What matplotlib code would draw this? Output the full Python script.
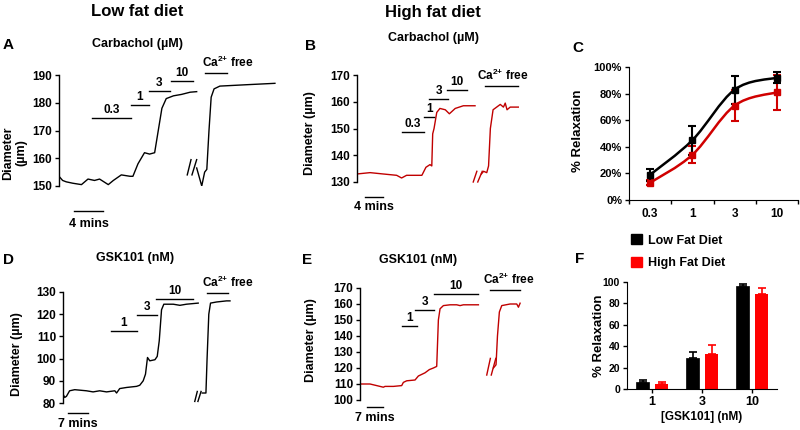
import numpy as np
import matplotlib
matplotlib.use("Agg")
import matplotlib.pyplot as plt
from matplotlib.path import Path
from matplotlib.patches import PathPatch, Patch

plt.rcParams["font.family"] = ["Liberation Sans", "DejaVu Sans"]
plt.rcParams["font.weight"] = "bold"
plt.rcParams["axes.labelweight"] = "bold"
plt.rcParams["mathtext.fontset"] = "custom"
plt.rcParams["mathtext.rm"] = "Liberation Sans:bold"
plt.rcParams["mathtext.bf"] = "Liberation Sans:bold"
plt.rcParams["mathtext.default"] = "rm"

# ---- traces (time in min, diameter in um) ----
# A: low fat diet, carbachol
a_t1 = [0, 0.5, 1.0, 1.9, 3.1, 4.0, 4.9, 5.6, 6.5, 6.8, 7.5, 8.6, 9.8, 10.2, 10.9, 11.8, 12.5, 13.2, 13.7, 14.2, 14.8, 15.8, 16.9, 18.1, 19.0]
a_d1 = [153.5, 152, 151.5, 151, 150.5, 152.5, 152, 152.5, 151, 150.5, 152, 154, 153.5, 153.5, 158, 162, 161.5, 162, 170, 178, 181.5, 182.5, 183, 183.8, 184]
a_t2 = [19.0, 19.7, 20.1, 20.4, 20.7, 21.0, 21.4, 22.2, 25.9, 29.8]
a_d2 = [156.5, 150, 155, 156, 170, 182, 185, 186, 186.5, 187]
# B: high fat diet, carbachol
b_t1 = [0, 2.9, 5.8, 8.8, 9.9, 11.0, 14.4, 15.3, 16.2, 16.6, 16.8, 17.1, 17.7, 18.4, 19.6, 20.5, 21.8, 23.6, 26.2]
b_d1 = [133, 133.5, 133, 132.5, 131.5, 132.5, 132.5, 135.5, 136.5, 136, 148, 150, 156, 157.5, 157, 155.5, 157.5, 158.5, 158.5]
b_t2 = [27.6, 28.1, 28.8, 29.2, 29.6, 30.2, 31.8, 32.5, 32.9, 33.3, 34.0, 35.8]
b_d2 = [133, 134, 133.5, 136, 150, 157, 159, 158, 159.5, 157, 158, 158]
# D: low fat diet, GSK101
d_t1 = [0, 0.6, 1.2, 2.3, 4.1, 8.2, 10.5, 12.8, 15.2, 18.1, 18.7, 19.8, 22.2, 25.7, 26.8, 28.0, 28.8, 29.5, 30.3, 32.1, 32.9, 33.6, 34.4, 35.2, 38.5, 40.8, 43.1, 47.2]
d_d1 = [84, 82.5, 83, 85.5, 86, 85.5, 85, 85.5, 85, 85.5, 84.5, 86.5, 87, 87.5, 88, 90, 93, 100.5, 99, 99.5, 101, 108, 122, 124.5, 124.5, 124, 124.5, 125]
d_t2 = [48.6, 49.9, 50.3, 50.9, 51.5, 53.6, 57.1, 58.3]
d_d2 = [84.5, 84.5, 100, 120, 125, 125.5, 126, 126]
# E: high fat diet, GSK101
e_t1 = [0, 4.2, 7.0, 9.8, 10.5, 14.0, 17.5, 18.2, 19.6, 23.1, 24.5, 27.3, 29.1, 30.8, 32.2, 32.9, 33.6, 35.0, 37.8, 40.6, 42.0, 43.4, 49.7]
e_d1 = [110, 110, 109, 108, 108.5, 108.5, 109, 111, 112, 112.5, 115, 117, 119, 120, 121, 150, 157, 159, 159.5, 159.5, 159, 159.5, 159.5]
e_t2 = [56.0, 57.1, 57.7, 58.5, 59.5, 63.0, 65.8, 66.5, 67.2]
e_d2 = [120, 122, 140, 155, 159, 160, 160, 158, 160.5]

# drug application bars: (label, start, end, level)
a_doses = [("0.3", 4.55, 9.93, 174.5), ("1", 9.93, 12.4, 179.2), ("3", 12.4, 15.3, 184.2), ("10", 15.45, 18.5, 187.8)]
b_doses = [("0.3", 9.9, 14.9, 148.8), ("1", 14.9, 17.1, 154.2), ("3", 16.0, 20.2, 160.9), ("10", 20.0, 24.4, 164.4)]
d_doses = [("1", 16.9, 25.7, 112.6), ("3", 25.7, 32.7, 119.8), ("10", 32.4, 45.5, 127.0)]
e_doses = [("1", 17.5, 23.8, 146.4), ("3", 23.1, 31.1, 156.4), ("10", 31.1, 49.7, 166.4)]

# C: carbachol concentration-response
c_conc = ["0.3", "1", "3", "10"]
c_low = [19, 45, 83, 92]
c_low_err = [4.5, 11, 10.5, 4]
c_high = [13, 34, 71, 81]
c_high_err = [2, 6.5, 11.5, 13]

# F: GSK101 relaxation
f_conc = ["1", "3", "10"]
f_low = [6.5, 28.8, 96]
f_low_err = [2.2, 6.2, 1.8]
f_high = [4.6, 32.8, 89.2]
f_high_err = [1.9, 8.4, 5.2]

W, H = 800, 430
fig = plt.figure(figsize=(8, 4.3), dpi=100)


def rect(l, t, r, b):
    return [l / W, 1 - b / H, (r - l) / W, (b - t) / H]


def ftext(x, y, s, **kw):
    fig.text(x / W, 1 - y / H, s, ha="center", va="center", **kw)


def bold_ticks(ax):
    for lab in ax.get_xticklabels(which="both") + ax.get_yticklabels():
        lab.set_fontweight("bold")


def trace_axes(rc, xmax, ylim, yticks):
    ax = fig.add_axes(rc)
    ax.set_xlim(0, xmax)
    ax.set_ylim(ylim)
    for s in ["top", "right", "bottom"]:
        ax.spines[s].set_visible(False)
    ax.spines["left"].set_linewidth(1.0)
    ax.set_xticks([])
    ax.set_yticks(yticks)
    ax.tick_params(axis="y", length=3, width=1, labelsize=8.5, pad=2)
    bold_ticks(ax)
    return ax


def draw_doses(ax, doses):
    for lab, t0, t1, lev in doses:
        ax.plot([t0, t1], [lev, lev], color="black", lw=1, clip_on=False)
        ax.annotate(lab, xy=((t0 + t1) / 2, lev), xytext=(0, 1.5), textcoords="offset points",
                    ha="center", va="bottom", fontsize=8.5, annotation_clip=False)


def draw_ca(ax, t0, t1, lev, tx):
    ax.plot([t0, t1], [lev, lev], color="black", lw=1, clip_on=False)
    ax.annotate("Ca$^{2{+}}$ free", xy=(tx, lev), xytext=(0, 2), textcoords="offset points",
                ha="center", va="bottom", fontsize=8.5, annotation_clip=False)


def draw_break(ax, x0, x1, y0, y1, color):
    dx = (x1 - x0) / 2
    ax.plot([x0, x0 + dx * 0.8], [y0, y1], color=color, lw=1, clip_on=False)
    ax.plot([x0 + dx, x1], [y0, y1], color=color, lw=1, clip_on=False)


def scale_bar(ax, t0, t1, y, ty, text):
    ax.plot([t0, t1], [y, y], color="black", lw=1, clip_on=False)
    ax.text((t0 + t1) / 2, ty, text, ha="center", va="center", fontsize=9, clip_on=False)


dark_red = "#c00000"

# ---- A ----
axA = trace_axes(rect(59, 75, 280, 186), 30.5, (150, 190), [150, 160, 170, 180, 190])
axA.plot(a_t1, a_d1, color="black", lw=1)
axA.plot(a_t2, a_d2, color="black", lw=1)
draw_doses(axA, a_doses)
draw_ca(axA, 20.1, 23.2, 190.7, 23.3)
draw_break(axA, 17.7, 19.0, 154, 159.5, "black")
scale_bar(axA, 2.07, 6.07, 141.0, 136.3, "4 mins")

# ---- B ----
axB = trace_axes(rect(357, 75, 521, 182), 36.4, (130, 170), [130, 140, 150, 160, 170])
axB.plot(b_t1, b_d1, color=dark_red, lw=1)
axB.plot(b_t2, b_d2, color=dark_red, lw=1)
draw_doses(axB, b_doses)
draw_ca(axB, 28.4, 35.8, 165.9, 32.4)
draw_break(axB, 25.8, 27.8, 130, 134, dark_red)
scale_bar(axB, 1.8, 5.8, 124.4, 120.7, "4 mins")

# ---- D ----
axD = trace_axes(rect(63, 292, 232, 403), 59, (80, 130), [80, 90, 100, 110, 120, 130])
axD.plot(d_t1, d_d1, color="black", lw=1)
axD.plot(d_t2, d_d2, color="black", lw=1)
draw_doses(axD, d_doses)
draw_ca(axD, 50.1, 57.7, 129.5, 57.6)
draw_break(axD, 46.0, 48.2, 80.7, 85.2, "black")
scale_bar(axD, 1.6, 8.6, 75.5, 70.7, "7 mins")

# ---- E ----
axE = trace_axes(rect(360, 288, 522, 400), 68, (100, 170), [100, 110, 120, 130, 140, 150, 160, 170])
axE.plot(e_t1, e_d1, color=dark_red, lw=1)
axE.plot(e_t2, e_d2, color=dark_red, lw=1)
draw_doses(axE, e_doses)
draw_ca(axE, 54.6, 67.2, 168.9, 62.6)
draw_break(axE, 53.2, 57.0, 115.6, 126.0, dark_red)
scale_bar(axE, 2.8, 9.8, 95.8, 88.7, "7 mins")


# ---- C ----
def smooth_path(xs, ys):
    pts = np.column_stack([xs, ys]).astype(float)
    ext = np.vstack([pts[0], pts, pts[-1]])
    verts = [pts[0]]
    codes = [Path.MOVETO]
    for i in range(len(pts) - 1):
        p0, p1, p2, p3 = ext[i], ext[i + 1], ext[i + 2], ext[i + 3]
        verts += [p1 + (p2 - p0) / 6, p2 - (p3 - p1) / 6, p2]
        codes += [Path.CURVE4] * 3
    return Path(verts, codes)


axC = fig.add_axes(rect(629, 67, 798, 200))
xc = np.arange(len(c_conc))
for vals, errs, col in [(c_high, c_high_err, "#d00000"), (c_low, c_low_err, "black")]:
    axC.add_patch(PathPatch(smooth_path(xc, vals), fill=False, edgecolor=col, lw=1.8))
    axC.errorbar(xc, vals, yerr=errs, fmt="s", color=col, ms=4, capsize=3, elinewidth=1.5, capthick=1.5)
axC.set_xlim(-0.5, 3.5)
axC.set_ylim(0, 100)
axC.set_yticks(range(0, 101, 20))
axC.set_yticklabels([f"{v}%" for v in range(0, 101, 20)])
axC.set_xticks([-0.5, 0.5, 1.5, 2.5, 3.5])
axC.set_xticklabels([])
axC.set_xticks(xc, minor=True)
axC.set_xticklabels(c_conc, minor=True)
axC.tick_params(axis="x", which="minor", length=0, labelsize=8.5, pad=6)
axC.tick_params(axis="x", which="major", length=3, width=1)
axC.tick_params(axis="y", length=3, width=1, labelsize=8, pad=2)
for s in ["top", "right"]:
    axC.spines[s].set_visible(False)
bold_ticks(axC)

# ---- F ----
axF = fig.add_axes(rect(627, 282, 777, 389))
xf = np.arange(len(f_conc))
axF.bar(xf - 0.19, f_low, width=0.27, color="black", edgecolor="black", lw=0.5)
axF.bar(xf + 0.19, f_high, width=0.27, color="#ff0000")
axF.errorbar(xf - 0.19, f_low, yerr=[np.zeros(3), f_low_err], fmt="none", ecolor="black",
             capsize=3, elinewidth=1.2, capthick=1.2)
axF.errorbar(xf + 0.19, f_high, yerr=[np.zeros(3), f_high_err], fmt="none", ecolor="#ff0000",
             capsize=3, elinewidth=1.2, capthick=1.2)
axF.set_xlim(-0.5, 2.5)
axF.set_ylim(0, 100)
axF.set_yticks(range(0, 101, 20))
axF.set_xticks(xf)
axF.set_xticklabels(f_conc)
axF.tick_params(axis="x", length=3, width=1, labelsize=9, pad=2)
axF.tick_params(axis="y", length=3, width=1, labelsize=7.5, pad=2)
for s in ["top", "right"]:
    axF.spines[s].set_visible(False)
axF.set_xlabel("[GSK101] (nM)", fontsize=8.5, fontweight="bold", labelpad=2)
bold_ticks(axF)

fig.legend(handles=[Patch(color="black", label="Low Fat Diet"), Patch(color="#ff0000", label="High Fat Diet")],
           loc="upper left", bbox_to_anchor=(631 / W, 1 - 234 / H), frameon=False,
           prop={"size": 9, "weight": "bold"},
           handlelength=0.9, handleheight=0.9, handletextpad=0.5, labelspacing=0.8, borderpad=0,
           borderaxespad=0)

# ---- free text ----
ftext(137, 12, "Low fat diet", fontsize=12)
ftext(433, 12, "High fat diet", fontsize=12)
ftext(138, 44, "Carbachol (\u00b5M)", fontsize=9)
ftext(434, 38, "Carbachol (\u00b5M)", fontsize=9)
ftext(135, 258, "GSK101 (nM)", fontsize=9)
ftext(418, 260, "GSK101 (nM)", fontsize=9)
for lab, x, y in [("A", 8, 45), ("B", 311, 46), ("C", 578, 48), ("D", 8, 260), ("E", 307, 260), ("F", 580, 259)]:
    ftext(x, y, lab, fontsize=11)
ftext(15, 153, "Diameter\n(\u00b5m)", fontsize=9, rotation=90, linespacing=1.1)
ftext(310, 133, "Diameter (\u00b5m)", fontsize=9, rotation=90)
ftext(17, 354, "Diameter (\u00b5m)", fontsize=9, rotation=90)
ftext(311, 340, "Diameter (\u00b5m)", fontsize=9, rotation=90)
ftext(578, 131, "% Relaxation", fontsize=9.5, rotation=90)
ftext(599, 336, "% Relaxation", fontsize=9.5, rotation=90)

fig.savefig("out.png", dpi=100)
